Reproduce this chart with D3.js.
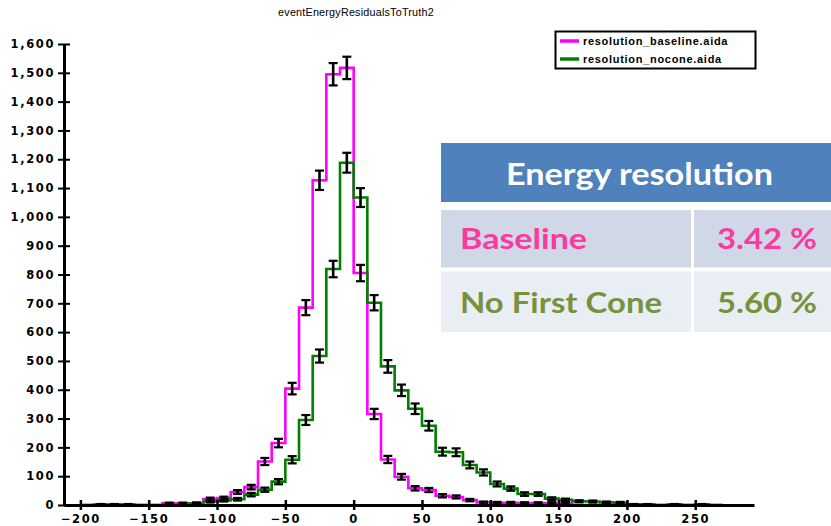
<!DOCTYPE html>
<html>
<head>
<meta charset="utf-8">
<script src="https://cdn.jsdelivr.net/npm/d3@7"></script>
<style>
  body { margin: 0; background: #fff; }
  svg { display: block; }
</style>
</head>
<body>
<script>
// Histogram bins: lower edge of each 10-unit bin
const binLow = [-200, -190, -180, -170, -160, -150, -140, -130, -120, -110,
                -100, -90, -80, -70, -60, -50, -40, -30, -20, -10,
                0, 10, 20, 30, 40, 50, 60, 70, 80, 90,
                100, 110, 120, 130, 140, 150, 160, 170, 180, 190,
                200, 210, 220, 230, 240, 250, 260];

// Entries per bin, resolution_baseline.aida
const baselineCounts = [0, 2, 2, 2, 0, 0, 6, 6, 6, 21,
                        24, 45, 62, 151, 215, 404, 685, 1127, 1495, 1517,
                        805, 316, 158, 98, 58, 52, 32, 28, 17, 9,
                        8, 8, 7, 7, 7, 7, 0, 0, 0, 0,
                        0, 0, 0, 0, 0, 0, 0];
const baselineErrors = [0, 1.4, 1.4, 1.4, 0, 0, 2.4, 2.4, 2.4, 4.6,
                        4.9, 6.7, 7.9, 12.3, 14.7, 20.1, 26.2, 33.6, 38.7, 38.9,
                        28.4, 17.8, 12.6, 9.9, 7.6, 7.2, 5.7, 5.3, 4.1, 3.0,
                        2.8, 2.8, 2.6, 2.6, 2.6, 2.6, 0, 0, 0, 0,
                        0, 0, 0, 0, 0, 0, 0];

// Entries per bin, resolution_nocone.aida
const noconeCounts = [0, 0, 0, 0, 0, 0, 0, 0, 6, 12,
                      16, 20, 36, 53, 81, 157, 295, 517, 819, 1188,
                      1067, 702, 481, 398, 334, 275, 185, 183, 139, 113,
                      73, 57, 38, 38, 22, 18, 13, 12, 9, 8,
                      2, 2, 0, 2, 0, 2, 0];
const noconeErrors = [0, 0, 0, 0, 0, 0, 0, 0, 2.4, 3.5,
                      4.0, 4.5, 6.0, 7.3, 9.0, 12.5, 17.2, 22.7, 28.6, 34.5,
                      32.7, 26.5, 21.9, 19.9, 18.3, 16.6, 13.6, 13.5, 11.8, 10.6,
                      8.5, 7.5, 6.2, 6.2, 4.7, 4.2, 3.6, 3.5, 3.0, 2.8,
                      1.4, 1.4, 0, 1.4, 0, 1.4, 0];

const seriesNames = ["resolution_baseline.aida", "resolution_nocone.aida"];
const seriesColors = ["#ff00ff", "#008000"];

const xTicks = [-200, -150, -100, -50, 0, 50, 100, 150, 200, 250];
const yTicks = [0, 100, 200, 300, 400, 500, 600, 700, 800, 900, 1000,
                1100, 1200, 1300, 1400, 1500, 1600];

const chartTitle = "eventEnergyResidualsToTruth2";

// Summary table
const tableHeader = "Energy resolution";
const tableLabels = ["Baseline", "No First Cone"];
const tableValues = ["3.42 %", "5.60 %"];
const tableTextColors = ["#fb3a9d", "#76923c"];

const W = 831, H = 526;
const svg = d3.select("body").append("svg").attr("width", W).attr("height", H);

const x = d3.scaleLinear().domain([-212, 293]).range([64, 754]);
const y = d3.scaleLinear().domain([0, 1600]).range([505, 44]);
const binWidth = binLow[1] - binLow[0];

// Title
svg.append("text")
  .attr("x", 356).attr("y", 16)
  .attr("text-anchor", "middle")
  .style("font-family", "'Liberation Sans', Arial, sans-serif")
  .style("font-size", "10.8px")
  .style("letter-spacing", "0.2px")
  .text(chartTitle);

// Step outlines of both histograms
const stepLine = d3.line()
  .x(d => x(d[0]))
  .y(d => y(d[1]))
  .curve(d3.curveStepAfter);

function stepPoints(counts) {
  const pts = binLow.map((lo, i) => [lo, counts[i]]);
  pts.push([binLow[binLow.length - 1] + binWidth, counts[counts.length - 1]]);
  return pts;
}

const series = [
  { counts: baselineCounts, errors: baselineErrors, color: seriesColors[0] },
  { counts: noconeCounts, errors: noconeErrors, color: seriesColors[1] }
];

series.forEach(s => {
  svg.append("path")
    .attr("d", stepLine(stepPoints(s.counts)))
    .attr("fill", "none")
    .attr("stroke", s.color)
    .attr("stroke-width", 2.6)
    .attr("stroke-linejoin", "miter");
});

// Axes
const tickFont = g => g.selectAll("text")
  .style("font-family", "'DejaVu Sans', sans-serif")
  .style("font-weight", "bold")
  .style("font-size", "11.5px")
  .style("letter-spacing", "1.6px")
  .attr("fill", "#000");

const xAxis = svg.append("g")
  .attr("transform", `translate(0,${y(0)})`)
  .call(d3.axisBottom(x).tickValues(xTicks).tickSize(5).tickSizeOuter(0).tickPadding(5))
  .call(tickFont);
xAxis.select(".domain").attr("stroke", "#000").attr("stroke-width", 3);
xAxis.selectAll(".tick line").attr("y1", -5).attr("y2", 5)
  .attr("stroke", "#000").attr("stroke-width", 2.5);

const yAxis = svg.append("g")
  .attr("transform", `translate(${x.range()[0]},0)`)
  .call(d3.axisLeft(y).tickValues(yTicks).tickFormat(d3.format(",")).tickSize(6).tickSizeOuter(0).tickPadding(3))
  .call(tickFont);
yAxis.select(".domain").attr("stroke", "#000").attr("stroke-width", 3);
yAxis.selectAll(".tick line").attr("x1", -6).attr("x2", 6)
  .attr("stroke", "#000").attr("stroke-width", 2);

// Error bars at bin centres
const capHalf = 4.5;
series.forEach(s => {
  const bars = binLow.map((lo, i) => ({ c: lo + binWidth / 2, v: s.counts[i], e: s.errors[i] }))
    .filter(d => d.v > 0);
  const g = svg.append("g").attr("stroke", "#000");
  g.selectAll("line.stem").data(bars).join("line")
    .attr("class", "stem")
    .attr("x1", d => x(d.c)).attr("x2", d => x(d.c))
    .attr("y1", d => y(d.v + d.e)).attr("y2", d => y(d.v - d.e))
    .attr("stroke-width", 2.6);
  g.selectAll("line.capTop").data(bars).join("line")
    .attr("class", "capTop")
    .attr("x1", d => x(d.c) - capHalf).attr("x2", d => x(d.c) + capHalf)
    .attr("y1", d => y(d.v + d.e)).attr("y2", d => y(d.v + d.e))
    .attr("stroke-width", 2.2);
  g.selectAll("line.capBot").data(bars).join("line")
    .attr("class", "capBot")
    .attr("x1", d => x(d.c) - capHalf).attr("x2", d => x(d.c) + capHalf)
    .attr("y1", d => y(d.v - d.e)).attr("y2", d => y(d.v - d.e))
    .attr("stroke-width", 2.2);
});

// Legend
const legend = svg.append("g");
legend.append("rect")
  .attr("x", 555.5).attr("y", 31.5).attr("width", 200).attr("height", 37)
  .attr("fill", "#fff").attr("stroke", "#000").attr("stroke-width", 2);
seriesNames.forEach((name, i) => {
  const ly = 41 + i * 18;
  legend.append("line")
    .attr("x1", 560).attr("x2", 579).attr("y1", ly).attr("y2", ly)
    .attr("stroke", seriesColors[i]).attr("stroke-width", 3.5);
  legend.append("text")
    .attr("x", 583).attr("y", ly + 4)
    .style("font-family", "'Liberation Sans', Arial, sans-serif")
    .style("font-weight", "bold")
    .style("font-size", "11px")
    .style("letter-spacing", "0.7px")
    .text(name);
});

// Summary table
const table = svg.append("g").style("font-family", "Lato, 'Open Sans', sans-serif").style("font-weight", "bold");
table.append("rect").attr("x", 441).attr("y", 143).attr("width", 390).attr("height", 59).attr("fill", "#4f81bd");
table.append("text")
  .attr("x", 506).attr("y", 185)
  .attr("fill", "#fff")
  .style("font-size", "31px")
  .attr("textLength", 267).attr("lengthAdjust", "spacingAndGlyphs")
  .text(tableHeader);

const rowTop = [210, 271.5];
const rowH = [57.5, 60.5];
const rowFill = ["#d0d8e8", "#e9edf4"];
const labelLen = [127, 202];
tableLabels.forEach((lab, i) => {
  table.append("rect").attr("x", 441).attr("y", rowTop[i]).attr("width", 250).attr("height", rowH[i]).attr("fill", rowFill[i]);
  table.append("rect").attr("x", 694).attr("y", rowTop[i]).attr("width", 137).attr("height", rowH[i]).attr("fill", rowFill[i]);
  const base = rowTop[i] + 38.5 + i * 3;
  table.append("text")
    .attr("x", 460).attr("y", base)
    .attr("fill", tableTextColors[i])
    .style("font-size", "29px")
    .attr("textLength", labelLen[i]).attr("lengthAdjust", "spacingAndGlyphs")
    .text(lab);
  table.append("text")
    .attr("x", 717).attr("y", base)
    .attr("fill", tableTextColors[i])
    .style("font-size", "29px")
    .attr("textLength", 100).attr("lengthAdjust", "spacingAndGlyphs")
    .text(tableValues[i]);
});
</script>
</body>
</html>
